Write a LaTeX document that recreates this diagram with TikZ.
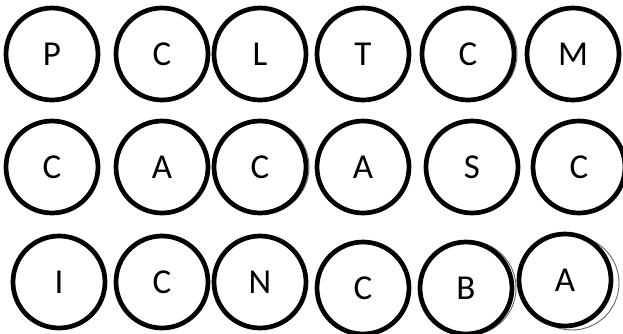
\documentclass[tikz,border=0pt]{standalone}
\usepackage{fontspec}
\setmainfont{Carlito}
\begin{document}
\begin{tikzpicture}[x=1pt,y=-1pt,
  ring/.style={circle,draw=black,fill=white,line width=4.7pt,minimum size=92pt,inner sep=0pt,font=\fontsize{35}{35}\selectfont},
  ghost/.style={circle,draw=black!60,line width=0.9pt,minimum size=94pt,inner sep=0pt}]
\useasboundingbox (0,0) rectangle (623,333);
% ghost rings
\node[ghost] (g1) at (470,54) {};
\node[ghost] (g2) at (262,167) {};
\node[ghost] (g3) at (469,288) {};
\node[ghost] (g4) at (572,283) {};
% row 1
\node[ring] (a1) at (52,54) {P};
\node[ring] (a2) at (162,54) {C};
\node[ring] (a3) at (260,54) {L};
\node[ring] (a4) at (363,54) {T};
\node[ring] (a5) at (468,54) {C};
\node[ring] (a6) at (573,54) {M};
% row 2
\node[ring] (b1) at (52,167) {C};
\node[ring] (b2) at (162,167) {A};
\node[ring] (b3) at (260,167) {C};
\node[ring] (b4) at (363,167) {A};
\node[ring] (b5) at (472,167) {S};
\node[ring] (b6) at (579,167) {C};
% row 3
\node[ring] (c1) at (59,282) {I};
\node[ring] (c2) at (162,282) {C};
\node[ring] (c3) at (260,282) {N};
\node[ring] (c4) at (363,288) {C};
\node[ring] (c5) at (466,288) {B};
\node[ring] (c6) at (565,280) {A};
\end{tikzpicture}
\end{document}
